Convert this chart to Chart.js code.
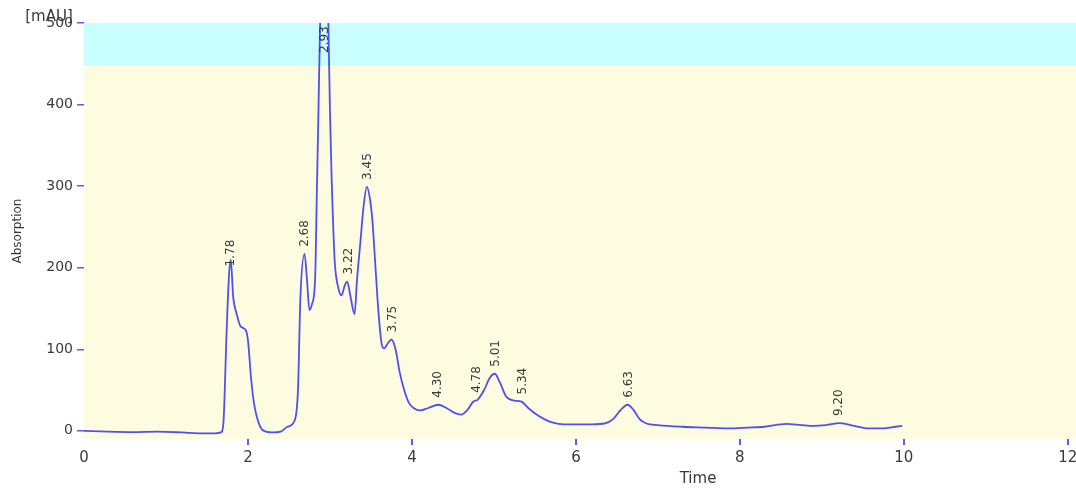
<!DOCTYPE html>
<html>
<head>
<meta charset="utf-8">
<script src="https://cdn.jsdelivr.net/npm/chart.js@4.4.1/dist/chart.umd.min.js"></script>
<style>
  html, body { margin: 0; padding: 0; background: #ffffff; }
  #wrap { width: 1076px; height: 489px; }
</style>
</head>
<body>
<div id="wrap"><canvas id="c" width="1076" height="489"></canvas></div>
<script>
// ---- data ----
const times = [
  0.00, 0.30, 0.60, 0.90, 1.20, 1.40, 1.60, 1.67, 1.70, 1.74, 1.77, 1.79, 1.82, 1.86, 1.91, 1.97, 2.00, 2.04, 2.08, 2.15,
  2.22, 2.30, 2.40, 2.48, 2.57, 2.61, 2.64, 2.69, 2.72, 2.75, 2.78, 2.82, 2.84, 2.86, 2.88, 2.91, 2.93, 2.95, 2.98, 3.00,
  3.02, 3.04, 3.06, 3.10, 3.14, 3.18, 3.21, 3.25, 3.30, 3.33, 3.37, 3.41, 3.45, 3.49, 3.52, 3.55, 3.59, 3.63, 3.66, 3.71,
  3.75, 3.80, 3.85, 3.90, 3.96, 4.02, 4.10, 4.20, 4.32, 4.42, 4.52, 4.60, 4.68, 4.75, 4.80, 4.88, 4.95, 5.01, 5.07, 5.15,
  5.25, 5.33, 5.42, 5.52, 5.62, 5.72, 5.85, 6.00, 6.20, 6.35, 6.45, 6.55, 6.63, 6.70, 6.78, 6.86, 7.00, 7.30, 7.60, 7.85,
  8.10, 8.30, 8.57, 8.75, 8.90, 9.05, 9.22, 9.40, 9.55, 9.75, 9.90, 9.98
];
const absorbance = [
  0, -1, -1.5, -1, -2, -3, -3, -2, 9, 123, 193, 210, 164, 144, 128, 124, 111, 62, 30, 5,
  -1, -2, -1, 5, 13, 50, 164, 217, 185, 148, 155, 189, 291, 393, 500, 560, 570, 560, 500, 393,
  311, 250, 205, 176, 166, 178, 183, 165, 143, 185, 230, 275, 299, 283, 255, 209, 148, 107, 101, 108,
  112, 100, 72, 52, 35, 28, 25, 28, 32, 28, 22, 20, 26, 36, 38, 50, 65, 70, 60, 42,
  37, 36, 28, 20, 14, 10, 8, 8, 8, 9, 14, 26, 32, 26, 14, 9, 7, 5, 4, 3,
  4, 5, 8.5, 7, 6, 7, 9.5, 6, 3, 3, 5, 6
];
const peakTimes  = [1.78, 2.68, 2.93, 3.22, 3.45, 3.75, 4.30, 4.78, 5.01, 5.34, 6.63, 9.20];
const peakLabels = ['1.78', '2.68', '2.93', '3.22', '3.45', '3.75', '4.30', '4.78', '5.01', '5.34', '6.63', '9.20'];
const xTickStep = 2;
const yTickValues = [0, 100, 200, 300, 400, 500];
const saturationBand = [448, 500];

// ---- styling ----
const LINE = '#5050f0';
const TICK = '#5a5aff';
const TEXT = '#3a3a3a';
const PLOT_BG = '#fefce0';
const BAND_BG = '#c8fefe';

const points = times.map((t, i) => ({ x: t, y: absorbance[i] }));

const backgroundPlugin = {
  id: 'bg',
  beforeDraw(chart) {
    const { ctx, chartArea: a, scales: { y } } = chart;
    ctx.save();
    ctx.fillStyle = PLOT_BG;
    ctx.fillRect(a.left, a.top, a.right - a.left, a.bottom - a.top);
    const y1 = y.getPixelForValue(saturationBand[1]);
    const y0 = y.getPixelForValue(saturationBand[0]);
    ctx.fillStyle = BAND_BG;
    ctx.fillRect(a.left, y1, a.right - a.left, y0 - y1);
    ctx.restore();
  }
};

const labelsPlugin = {
  id: 'peakLabels',
  afterDatasetsDraw(chart) {
    const { ctx, chartArea: a, scales: { x, y } } = chart;
    ctx.save();
    ctx.fillStyle = TEXT;
    ctx.font = '12px "DejaVu Sans", sans-serif';
    ctx.textAlign = 'left';
    ctx.textBaseline = 'middle';
    peakTimes.forEach((t, i) => {
      let best = 0;
      for (let k = 1; k < times.length; k++) {
        if (Math.abs(times[k] - t) < Math.abs(times[best] - t)) best = k;
      }
      const px = x.getPixelForValue(t);
      let py = y.getPixelForValue(absorbance[best]) - 7;
      py = Math.max(py, a.top + 30);
      ctx.save();
      ctx.translate(px + 1, py);
      ctx.rotate(-Math.PI / 2);
      ctx.fillText(peakLabels[i], 0, 0);
      ctx.restore();
    });

    ctx.textAlign = 'center';
    ctx.textBaseline = 'middle';
    ctx.font = '15px "DejaVu Sans", sans-serif';
    ctx.fillText('Time', 698, 479);
    ctx.fillText('[mAU]', 49, 17);
    ctx.save();
    ctx.font = '12px "DejaVu Sans", sans-serif';
    ctx.translate(18, (a.top + a.bottom) / 2);
    ctx.rotate(-Math.PI / 2);
    ctx.fillText('Absorption', 0, 0);
    ctx.restore();
    ctx.restore();
  }
};

new Chart(document.getElementById('c'), {
  type: 'line',
  data: {
    datasets: [{
      data: points,
      borderColor: LINE,
      borderWidth: 1.8,
      pointRadius: 0,
      fill: false,
      cubicInterpolationMode: 'monotone'
    }]
  },
  options: {
    responsive: false,
    devicePixelRatio: 1,
    animation: false,
    events: [],
    layout: { padding: { top: 23, left: 0, right: 0, bottom: 0 } },
    plugins: { legend: { display: false }, tooltip: { enabled: false } },
    scales: {
      x: {
        type: 'linear',
        min: 0,
        max: 12.1,
        border: { display: false },
        grid: {
          display: true,
          drawOnChartArea: false,
          drawTicks: true,
          tickLength: 6,
          lineWidth: 2,
          color: TICK,
          tickColor: (c) => (c.tick && c.tick.value === 0 ? 'rgba(0,0,0,0)' : TICK)
        },
        ticks: {
          stepSize: xTickStep,
          includeBounds: false,
          maxRotation: 0,
          autoSkip: false,
          color: TEXT,
          padding: 4,
          font: { family: '"DejaVu Sans", sans-serif', size: 15 }
        },
        afterFit(s) { s.height = 50; s.paddingLeft = 0; s.paddingRight = 0; }
      },
      y: {
        min: -10,
        max: 500,
        border: { display: false },
        grid: {
          drawOnChartArea: false,
          drawTicks: true,
          tickLength: 7,
          lineWidth: 1.5,
          tickColor: TICK
        },
        ticks: {
          autoSkip: false,
          color: TEXT,
          padding: 4,
          font: { family: '"DejaVu Sans", sans-serif', size: 14 }
        },
        afterBuildTicks(s) { s.ticks = yTickValues.map(v => ({ value: v })); },
        afterFit(s) { s.width = 84; s.paddingTop = 0; s.paddingBottom = 0; }
      }
    }
  },
  plugins: [backgroundPlugin, labelsPlugin]
});
</script>
</body>
</html>
